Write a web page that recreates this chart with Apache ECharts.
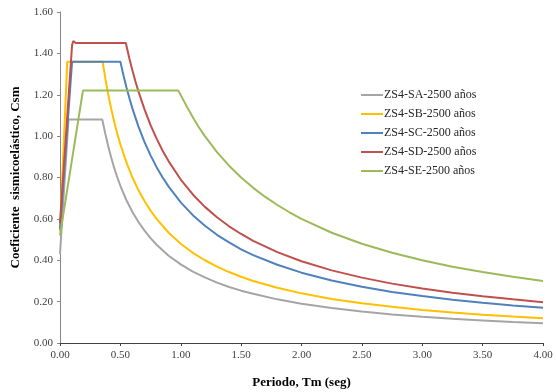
<!DOCTYPE html>
<html>
<head>
    <meta charset="utf-8"/>
    <title>Espectros ZS4 - 2500 años</title>
    <script src="https://cdn.jsdelivr.net/npm/echarts@6/dist/echarts.min.js"></script>
    <style>
        html, body { margin: 0; padding: 0; background: #fff; }
        #main { width: 556px; height: 392px; }
    </style>
</head>
<body>
<div id="main"></div>
<script type="text/javascript">
    // leyenda / series
    var names = ['ZS4-SA-2500 años', 'ZS4-SB-2500 años', 'ZS4-SC-2500 años', 'ZS4-SD-2500 años', 'ZS4-SE-2500 años']
    var colors = ['#A5A5A5', '#FFC000', '#4F81BD', '#C0504D', '#9BBB59']

    // [T (seg), Csm]
    var SA = [[0, 0.43], [0.07, 1.08], [0.35, 1.08], [0.375, 1.013], [0.40, 0.95], [0.425, 0.894], [0.45, 0.844],
        [0.475, 0.80], [0.50, 0.76], [0.55, 0.69], [0.60, 0.633], [0.65, 0.585], [0.70, 0.543], [0.75, 0.507],
        [0.80, 0.475], [0.90, 0.422], [1.00, 0.38], [1.10, 0.345], [1.20, 0.317], [1.30, 0.292], [1.40, 0.271],
        [1.50, 0.253], [1.60, 0.238], [1.80, 0.211], [2.00, 0.19], [2.25, 0.169], [2.50, 0.152], [2.75, 0.138],
        [3.00, 0.127], [3.25, 0.117], [3.50, 0.109], [3.75, 0.101], [4.00, 0.095]]
    var SB = [[0, 0.54], [0.06, 1.36], [0.353, 1.36], [0.375, 1.28], [0.40, 1.20], [0.425, 1.13], [0.45, 1.067],
        [0.475, 1.01], [0.50, 0.96], [0.55, 0.873], [0.60, 0.80], [0.65, 0.738], [0.70, 0.686], [0.75, 0.64],
        [0.80, 0.60], [0.90, 0.533], [1.00, 0.48], [1.10, 0.436], [1.20, 0.40], [1.30, 0.369], [1.40, 0.343],
        [1.50, 0.32], [1.60, 0.30], [1.80, 0.267], [2.00, 0.24], [2.25, 0.213], [2.50, 0.192], [2.75, 0.175],
        [3.00, 0.16], [3.25, 0.148], [3.50, 0.137], [3.75, 0.128], [4.00, 0.12]]
    var SC = [[0, 0.55], [0.10, 1.36], [0.50, 1.36], [0.525, 1.295], [0.55, 1.236], [0.575, 1.183], [0.60, 1.133],
        [0.65, 1.046], [0.70, 0.971], [0.75, 0.907], [0.80, 0.85], [0.85, 0.80], [0.90, 0.756], [1.00, 0.68],
        [1.10, 0.618], [1.20, 0.567], [1.30, 0.523], [1.40, 0.486], [1.50, 0.453], [1.60, 0.425], [1.80, 0.378],
        [2.00, 0.34], [2.25, 0.302], [2.50, 0.272], [2.75, 0.247], [3.00, 0.227], [3.25, 0.209], [3.50, 0.194],
        [3.75, 0.181], [4.00, 0.17]]
    var SD = [[0, 0.58], [0.10, 1.44], [0.11, 1.46], [0.13, 1.45], [0.545, 1.45], [0.575, 1.374], [0.60, 1.317],
        [0.625, 1.264], [0.65, 1.215], [0.70, 1.129], [0.75, 1.053], [0.80, 0.988], [0.85, 0.929], [0.90, 0.878],
        [1.00, 0.79], [1.10, 0.718], [1.20, 0.658], [1.30, 0.608], [1.40, 0.564], [1.50, 0.527], [1.60, 0.494],
        [1.80, 0.439], [2.00, 0.395], [2.25, 0.351], [2.50, 0.316], [2.75, 0.287], [3.00, 0.263], [3.25, 0.243],
        [3.50, 0.226], [3.75, 0.211], [4.00, 0.1975]]
    var SE = [[0, 0.52], [0.19, 1.22], [0.98, 1.22], [1.05, 1.143], [1.10, 1.091], [1.15, 1.043], [1.20, 1.00],
        [1.30, 0.923], [1.40, 0.857], [1.50, 0.80], [1.60, 0.75], [1.70, 0.706], [1.80, 0.667], [1.90, 0.632],
        [2.00, 0.60], [2.25, 0.533], [2.50, 0.48], [2.75, 0.436], [3.00, 0.40], [3.25, 0.369], [3.50, 0.343],
        [3.75, 0.32], [4.00, 0.30]]
    var data = [SA, SB, SC, SD, SE]

    var font = '"Liberation Serif", "Times New Roman", serif'

    var series = []
    for (var i = 0; i < names.length; i++) {
        series.push({
            name: names[i],
            type: 'line',
            data: data[i],
            showSymbol: false,
            symbol: 'none',
            lineStyle: {color: colors[i], width: 2},
            itemStyle: {color: colors[i]},
            animation: false
        })
    }

    var myChart = echarts.init(document.getElementById('main'))
    myChart.setOption({
        animation: false,
        textStyle: {fontFamily: font},
        grid: {left: 60, right: 13, top: 12, bottom: 49, containLabel: false, outerBoundsMode: 'none'},
        legend: {
            orient: 'vertical',
            left: 356,
            top: 84,
            icon: 'rect',
            itemWidth: 22,
            itemHeight: 2,
            itemGap: 7,
            data: names,
            textStyle: {fontFamily: font, fontSize: 12, color: '#262626', padding: [0, 0, 0, -4]}
        },
        xAxis: {
            type: 'value',
            min: 0,
            max: 4,
            interval: 0.5,
            name: 'Periodo, Tm (seg)',
            nameLocation: 'middle',
            nameGap: 33,
            nameTextStyle: {fontFamily: font, fontSize: 13, fontWeight: 'bold', color: '#000'},
            axisLine: {lineStyle: {color: '#404040', width: 1}},
            axisTick: {show: true, length: 3, lineStyle: {color: '#404040'}},
            axisLabel: {fontFamily: font, fontSize: 11, color: '#404040', margin: 7,
                formatter: function (v) { return v.toFixed(2) }},
            splitLine: {show: false}
        },
        yAxis: {
            type: 'value',
            min: 0,
            max: 1.6,
            interval: 0.2,
            name: 'Coeficiente  sismicoelástico, Csm',
            nameLocation: 'middle',
            nameGap: 38,
            nameTextStyle: {fontFamily: font, fontSize: 13, fontWeight: 'bold', color: '#000'},
            axisLine: {show: true, lineStyle: {color: '#868686', width: 1}},
            axisTick: {show: true, length: 3, lineStyle: {color: '#868686'}},
            axisLabel: {fontFamily: font, fontSize: 11, color: '#404040', margin: 7,
                formatter: function (v) { return v.toFixed(2) }},
            splitLine: {show: false}
        },
        series: series
    })
</script>
</body>
</html>
